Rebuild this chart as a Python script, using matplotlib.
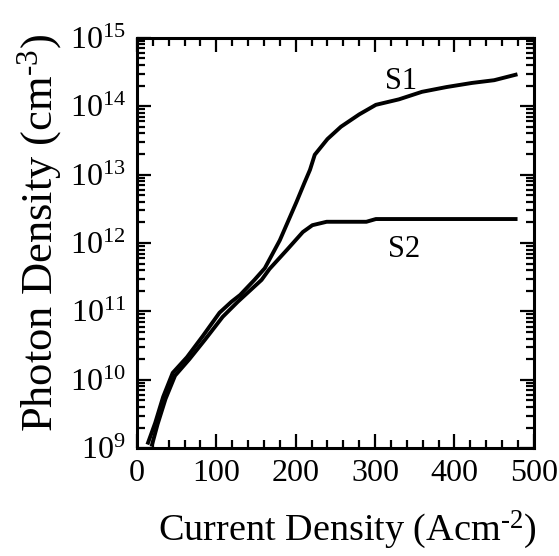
import numpy as np
import matplotlib
matplotlib.use("Agg")
import matplotlib.pyplot as plt
from matplotlib.ticker import FixedLocator, FixedFormatter, LogLocator, MultipleLocator

plt.rcParams['font.family'] = ['Liberation Serif', 'DejaVu Serif']
plt.rcParams['mathtext.fontset'] = 'custom'
plt.rcParams['mathtext.rm'] = 'Liberation Serif'
plt.rcParams['mathtext.it'] = 'Liberation Serif:italic'

# current density (A/cm^2) and log10 photon density
s1_x = [14, 23, 33, 45, 63, 83, 104, 119, 130, 148, 161, 180, 201, 211, 218,
        224, 240, 257, 280, 301, 330, 359, 390, 422, 450, 477]
s1_logy = [9.08, 9.37, 9.75, 10.10, 10.33, 10.64, 10.98, 11.14, 11.24, 11.46,
           11.63, 12.04, 12.60, 12.88, 13.07, 13.29, 13.52, 13.70, 13.88, 14.02,
           14.10, 14.21, 14.28, 14.34, 14.38, 14.46]

s2_x = [19, 26, 36, 48, 66, 86, 108, 127, 157, 167, 189, 209, 221, 239,
        289, 301, 477]
s2_logy = [9.05, 9.35, 9.72, 10.06, 10.30, 10.59, 10.92, 11.14, 11.46, 11.62,
           11.90, 12.16, 12.26, 12.31, 12.31, 12.35, 12.35]

y_exps = [9, 10, 11, 12, 13, 14, 15]
x_ticks = [0, 100, 200, 300, 400, 500]

fig = plt.figure(figsize=(5.59, 5.56), dpi=100)
ax = fig.add_axes([0.245, 0.194, 0.71, 0.738])

ax.plot(s1_x, 10 ** np.array(s1_logy), color='black', lw=2.8)
ax.plot(s2_x, 10 ** np.array(s2_logy), color='black', lw=2.8)

ax.set_yscale('log')
ax.set_xlim(0, 500)
ax.set_ylim(1e9, 1e15)

ax.yaxis.set_major_locator(FixedLocator([10.0 ** e for e in y_exps]))
ax.yaxis.set_major_formatter(FixedFormatter([r'$10^{%d}$' % e for e in y_exps]))
ax.yaxis.set_minor_locator(LogLocator(base=10, subs=np.arange(2, 10)))
ax.yaxis.set_minor_formatter(FixedFormatter([]))
ax.xaxis.set_major_locator(FixedLocator(x_ticks))
ax.xaxis.set_minor_locator(MultipleLocator(20))

ax.tick_params(which='both', direction='in', top=True, right=True, width=1.6)
ax.tick_params(which='major', length=10, labelsize=23, pad=8)
ax.tick_params(which='minor', length=6)
for sp in ax.spines.values():
    sp.set_linewidth(2.2)

ax.text(333, 10 ** 14.36, 'S1', fontsize=22, ha='center', va='center')
ax.text(337, 10 ** 11.9, 'S2', fontsize=22, ha='center', va='center')

ax.set_xlabel(r'Current Density (Acm$^{\text{-}2}$)', fontsize=27.5)
ax.set_ylabel(r'Photon Density (cm$^{\text{-}3}$)', fontsize=32)
ax.xaxis.set_label_coords(0.53, -0.148)
ax.yaxis.set_label_coords(-0.185, 0.525)

fig.savefig('out.png', dpi=100)
